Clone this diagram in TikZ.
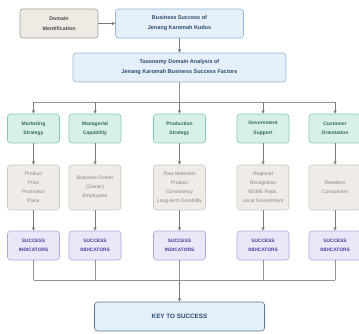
\documentclass[tikz,border=0pt]{standalone}
\usepackage{fontspec}
\setmainfont{Liberation Sans}
\usetikzlibrary{arrows.meta}
\definecolor{begefill}{HTML}{EEEAE4}
\definecolor{begedraw}{HTML}{A39E97}
\definecolor{bluefill}{HTML}{E4EFF9}
\definecolor{bluedraw}{HTML}{94B6D8}
\definecolor{bluetext}{HTML}{2B4A6F}
\definecolor{greenfill}{HTML}{D8F1E8}
\definecolor{greendraw}{HTML}{86C9B3}
\definecolor{greentext}{HTML}{2E6B57}
\definecolor{grayfill}{HTML}{EFECE7}
\definecolor{graydraw}{HTML}{CFC8BE}
\definecolor{graytext}{HTML}{8A837C}
\definecolor{purfill}{HTML}{EAE7F8}
\definecolor{purdraw}{HTML}{AEA6DC}
\definecolor{purtext}{HTML}{4A3F9A}
\definecolor{keydraw}{HTML}{56789A}
\definecolor{linecol}{HTML}{7A7A7A}
\begin{document}
\begin{tikzpicture}[x=1pt,y=-1pt,
  box/.style={draw, rounded corners=3pt, line width=0.6pt, align=center, inner sep=0pt},
  dombox/.style={box, fill=begefill, draw=begedraw, text=black!70, minimum width=78pt, minimum height=29pt, font=\fontsize{5.3}{10}\selectfont\bfseries},
  bluebox/.style={box, fill=bluefill, draw=bluedraw, text=bluetext, minimum height=29pt, font=\fontsize{5.5}{10}\selectfont\bfseries},
  catbox/.style={box, fill=greenfill, draw=greendraw, text=greentext, minimum width=52pt, minimum height=29pt, font=\fontsize{5}{9.5}\selectfont\bfseries},
  itembox/.style={box, fill=grayfill, draw=graydraw, text=graytext, minimum width=52pt, minimum height=45pt, font=\fontsize{5}{9}\selectfont},
  indbox/.style={box, fill=purfill, draw=purdraw, text=purtext, minimum width=52pt, minimum height=29pt, font=\fontsize{4.8}{9.5}\selectfont\bfseries},
  keybox/.style={box, fill=bluefill, draw=keydraw, text=bluetext, minimum width=170pt, minimum height=29pt, font=\fontsize{6.3}{8}\selectfont\bfseries},
  conn/.style={draw=linecol, line width=0.6pt, -{Stealth[length=3.6pt,width=3.4pt]}},
  plain/.style={draw=linecol!80, line width=0.6pt}
]
\useasboundingbox (0,0) rectangle (359,334);
\fill[white] (0,0) rectangle (359,334);

\node[dombox] (dom) at (59,23.5) {Domain\\Identification};
\node[bluebox, minimum width=128pt] (bs) at (179.5,23.5) {Business Success of\\Jenang Karomah Kudus};
\node[bluebox, minimum width=213pt] (tax) at (179.5,67.5) {Taxonomy Domain Analysis of\\Jenang Karomah Business Success Factors};

\node[catbox] (g1) at (33.5,128.5) {Marketing\\Strategy};
\node[catbox] (g2) at (95,128.5) {Managerial\\Capability};
\node[catbox] (g3) at (179.5,128.5) {Production\\Strategy};
\node[catbox] (g4) at (263,128.5) {Government\\Support};
\node[catbox] (g5) at (335,128.5) {Customer\\Orientation};

\node[itembox] (i1) at (33.5,187.5) {Product\\Price\\Promotion\\Place};
\node[itembox] (i2) at (95,187.5) {Business Owner\\(Owner)\\Employees};
\node[itembox] (i3) at (179.5,187.5) {Raw Materials\\Product\\Consistency\\Long-term Durability};
\node[itembox] (i4) at (263,187.5) {Regional\\Recognition\\MSME Reps.\\Local Government};
\node[itembox] (i5) at (335,187.5) {Resellers\\Consumers};

\node[indbox] (s1) at (33.5,245.5) {SUCCESS\\INDICATORS};
\node[indbox] (s2) at (95,245.5) {SUCCESS\\INDICATORS};
\node[indbox] (s3) at (179.5,245.5) {SUCCESS\\INDICATORS};
\node[indbox] (s4) at (263,245.5) {SUCCESS\\INDICATORS};
\node[indbox] (s5) at (335,245.5) {SUCCESS\\INDICATORS};

\node[keybox] (key) at (179.5,316.5) {KEY TO SUCCESS};

\draw[conn] (dom) -- (bs);
\draw[conn] (bs) -- (tax);

\coordinate (busT) at (179.5,102);
\coordinate (busB) at (179.5,280);
\draw[plain] (tax.south) -- (busT);
\draw[plain] (g1.north |- busT) -- (g5.north |- busT);
\draw[plain] (s1.south |- busB) -- (s5.south |- busB);
\foreach \n in {1,...,5}{
  \draw[conn] (g\n.north |- busT) -- (g\n.north);
  \draw[conn] (g\n.south) -- (i\n.north);
  \draw[conn] (i\n.south) -- (s\n.north);
  \draw[plain] (s\n.south) -- (s\n.south |- busB);
}
\draw[conn] (busB) -- (key.north);
\end{tikzpicture}
\end{document}
